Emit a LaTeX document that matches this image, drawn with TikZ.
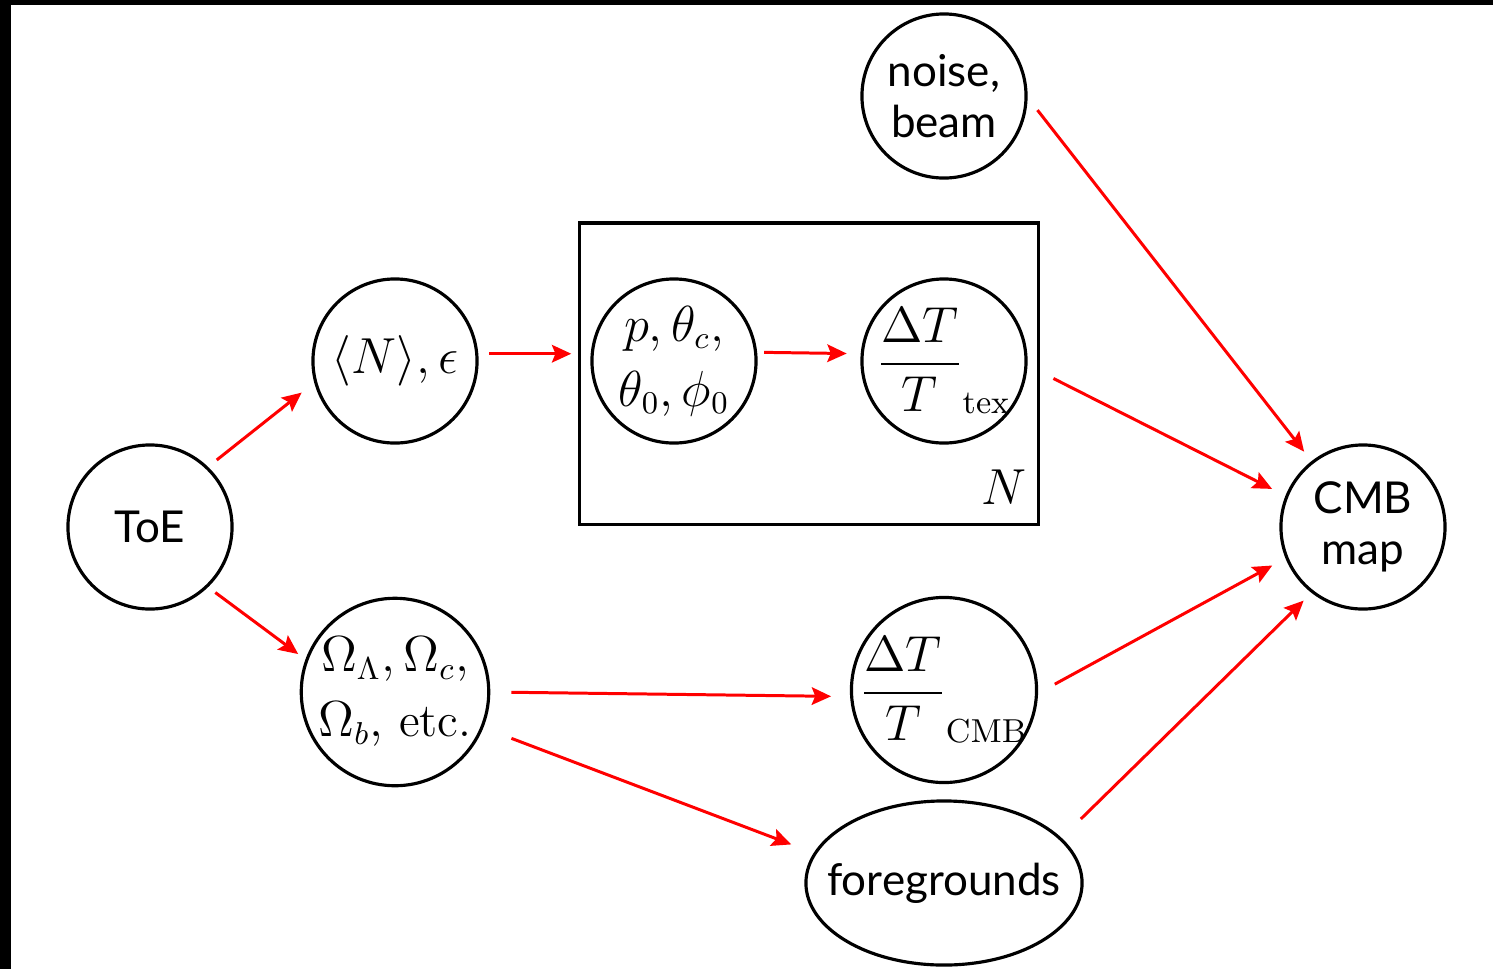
\documentclass[tikz,border=0pt]{standalone}
\usepackage{amsmath}
\usepackage{fontspec}
\setsansfont{Lato}
\usetikzlibrary{shapes.geometric,arrows.meta}
\newcommand{\dTT}[1]{\makebox[0pt]{$\dfrac{\Delta T}{T}_{\mathrm{#1}}$}}

\begin{document}
\begin{tikzpicture}[x=0.01cm,y=-0.01cm,
    var/.style={draw,circle,line width=0.9pt,minimum size=1.64cm,inner sep=0pt,align=center},
    txt/.style={font=\sffamily\fontsize{12.5}{14.5}\selectfont},
    mth/.style={font=\fontsize{13.5}{18.5}\selectfont},
    arr/.style={red,line width=0.85pt,-{Stealth[length=5.5pt,width=5pt,inset=1pt]}}]
        \useasboundingbox (0,0) rectangle (1493,969);
        \fill (0,0) rectangle (1493,5);
        \fill (0,0) rectangle (11,969);

        % plate
        \node[draw,line width=0.9pt,minimum width=4.58cm,minimum height=3.01cm,inner sep=0pt] (plate) at (809,373.5) {};
        \node[mth,anchor=base east,inner sep=0pt] (nlab) at ([xshift=-0.13cm,yshift=0.21cm]plate.south east) {$N$};

        % variables
        \node[var,txt] (toe) at (150,527) {ToE};
        \node[var,mth] (nep) at (395,361) {$\langle N\rangle,\epsilon$};
        \node[var,mth,minimum size=1.85cm] (omega) at (395,692) {$\Omega_\Lambda,\Omega_c,$\\$\Omega_b,$ etc.};
        \node[var,mth] (pth) at (674,361) {$p,\theta_c,$\\$\theta_0,\phi_0$};
        \node[var,mth] (tex) at (944,361) {\dTT{tex}};
        \node[var,mth,minimum size=1.85cm] (cmbT) at (944,690) {\dTT{CMB}};
        \node[var,txt] (noise) at (944,96) {noise,\\beam};
        \node[var,txt] (cmb) at (1363,527) {CMB\\map};
        \node[draw,ellipse,line width=0.9pt,minimum width=2.76cm,minimum height=1.64cm,inner sep=0pt,txt] (fg) at (944,883) {\makebox[0pt]{foregrounds}};

        % arrows
        \draw[arr,shorten <=0.11cm,shorten >=0.16cm] (toe.46) -- (nep.195);
        \draw[arr,shorten <=0.09cm,shorten >=0.09cm] (toe.-46) -- (omega.160);
        \draw[arr,shorten <=0.11cm,shorten >=0.07cm] (nep.5) -- (plate.west |- nep.5);
        \draw[arr,shorten <=0.07cm,shorten >=0.14cm] (pth.6) -- (tex.175);
        \draw[arr,shorten <=0.29cm,shorten >=0.15cm] (tex.-3) -- (cmb.158);
        \draw[arr,shorten <=0.16cm,shorten >=0.12cm] (noise.-1) -- (cmb.128);
        \draw[arr,shorten <=0.21cm,shorten >=0.19cm] (omega.0) -- (cmbT.184);
        \draw[arr,shorten <=0.30cm,shorten >=0.24cm] (omega.-22) -- (fg.167);
        \draw[arr,shorten <=0.19cm,shorten >=0.15cm] (cmbT.-2) -- (cmb.202);
        \draw[arr,shorten <=0.27cm,shorten >=0.11cm] (fg.21) -- (cmb.232);
\end{tikzpicture}
\end{document}
